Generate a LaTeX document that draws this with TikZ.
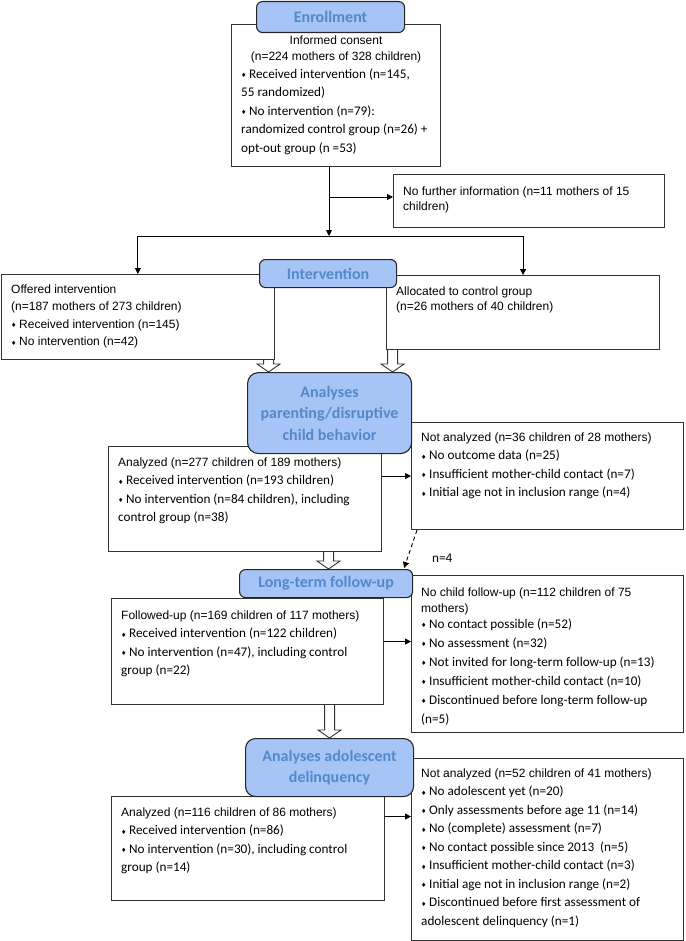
\documentclass[tikz,border=0pt]{standalone}
\usepackage{fontspec}
\setmainfont{Carlito}
\newfontfamily\arialfont{Liberation Sans}
\newfontfamily\hdfont[Scale=0.9091]{Liberation Sans}
\newfontfamily\symfont{DejaVu Sans}
\usetikzlibrary{arrows.meta,positioning,calc}

\definecolor{headfill}{RGB}{166,197,246}
\definecolor{headtext}{RGB}{84,136,200}
\definecolor{boxline}{RGB}{51,51,51}

\newcommand{\bul}{{\symfont\fontsize{6}{6}\selectfont\raisebox{0.8pt}{♦}}\hspace{2.6pt}}
\newcommand{\hd}[1]{{\hdfont #1}}
\newcommand{\hollowto}[2]{%
  \draw[hollow] ($(#1)+(-5,0)$) -- ($(#2)+(-5,-8)$) -- ($(#2)+(-11.5,-8)$) -- (#2)
    -- ($(#2)+(11.5,-8)$) -- ($(#2)+(5,-8)$) -- ($(#1)+(5,0)$);}

\begin{document}
\begin{tikzpicture}[x=1pt, y=-1pt,
    box/.style={draw=boxline, line width=1.1pt, anchor=north west, inner sep=0pt},
    head/.style={draw=black!85, line width=1.1pt, fill=headfill, rounded corners=6pt, anchor=north west, inner sep=0pt, align=center, text=headtext, font=\fontsize{16}{21.5}\selectfont\bfseries},
    txt/.style={inner sep=0pt, align=left, font=\fontsize{13.2}{18.5}\selectfont},
    atxt/.style={inner sep=0pt, align=left, font=\arialfont\fontsize{12}{15}\selectfont},
    arrow/.style={-{Triangle[length=6pt,width=6pt]}, line width=0.9pt},
    hollow/.style={line width=0.9pt, draw=boxline}
]
\useasboundingbox (0,0) rectangle (685,941);

% Boxes
\node[box, minimum width=209pt, minimum height=142pt] (enr) at (231,24) {};
\node[box, minimum width=271pt, minimum height=53pt] (nofur) at (393,174) {};
\node[box, minimum width=273.4pt, minimum height=85pt] (off) at (0.6,274) {};
\node[box, minimum width=273pt, minimum height=74pt] (alloc) at (386,275) {};
\node[box, minimum width=273pt, minimum height=105pt] (ana) at (108,446) {};
\node[box, minimum width=272pt, minimum height=107pt] (notana) at (411,422) {};
\node[box, minimum width=272pt, minimum height=106pt] (fol) at (111,598) {};
\node[box, minimum width=272pt, minimum height=157pt] (nofol) at (411,575) {};
\node[box, minimum width=273pt, minimum height=104pt] (ado) at (111,796) {};
\node[box, minimum width=272pt, minimum height=182pt] (notado) at (411,758) {};

% Header tabs
\node[head, minimum width=148pt, minimum height=31pt] (enr-h) at (256,1) {Enrollment};
\node[head, minimum width=137pt, minimum height=28pt] (int-h) at (259,259) {Intervention};
\node[head, rounded corners=11pt, minimum width=164pt, minimum height=81pt] (ana-h) at (247,372) {Analyses\\parenting/disruptive\\child behavior};
\node[head, minimum width=173pt, minimum height=28pt] (lt-h) at (239,569) {Long-term follow-up};
\node[head, rounded corners=10pt, minimum width=168pt, minimum height=58pt] (ado-h) at (245,738) {Analyses adolescent\\delinquency};

% Texts
\node[atxt, align=center, font=\arialfont\fontsize{12}{16}\selectfont, below=8.9pt of enr.north] (enr-t1) {\strut Informed consent\\(n=224 mothers of 328 children)};
\node[txt, below right=41.15pt and 10pt of enr.north west] (enr-t2) {\strut\bul Received intervention (n=145,\\55 randomized)\\\bul No intervention (n=79):\\randomized control group (n=26) +\\opt-out group (n =53)};
\node[atxt, below right=10.6pt and 10pt of nofur.north west] (nofur-t) {\strut No further information (n=11 mothers of 15\\children)};
\node[atxt, font=\arialfont\fontsize{12}{17.5}\selectfont, below right=6.85pt and 10.4pt of off.north west] (off-t) {\strut Offered intervention\\(n=187 mothers of 273 children)\\\bul Received intervention (n=145)\\\bul No intervention (n=42)};
\node[atxt, below right=9.6pt and 10pt of alloc.north west] (alloc-t) {\strut Allocated to control group\\(n=26 mothers of 40 children)};
\node[txt, below right=7.15pt and 10pt of ana.north west] (ana-t) {\strut\hd{Analyzed (n=277 children of 189 mothers)}\\\bul Received intervention (n=193 children)\\\bul No intervention (n=84 children), including\\control group (n=38)};
\node[txt, below right=6.15pt and 10pt of notana.north west] (notana-t) {\strut\hd{Not analyzed (n=36 children of 28 mothers)}\\\bul No outcome data (n=25)\\\bul Insufficient mother-child contact (n=7)\\\bul Initial age not in inclusion range (n=4)};
\node[txt, below right=8.15pt and 10pt of fol.north west] (fol-t) {\strut\hd{Followed-up (n=169 children of 117 mothers)}\\\bul Received intervention (n=122 children)\\\bul No intervention (n=47), including control\\group (n=22)};
\node[txt, font=\fontsize{13.2}{19}\selectfont, below right=7.8pt and 10pt of nofol.north west] (nofol-t) {\strut\hd{No child follow-up (n=112 children of 75}\\[-3pt]\hd{mothers)}\\[-3pt]\bul No contact possible (n=52)\\\bul No assessment (n=32)\\\bul Not invited for long-term follow-up (n=13)\\\bul Insufficient mother-child contact (n=10)\\\bul Discontinued before long-term follow-up\\(n=5)};
\node[txt, below right=7.15pt and 10pt of ado.north west] (ado-t) {\strut\hd{Analyzed (n=116 children of 86 mothers)}\\\bul Received intervention (n=86)\\\bul No intervention (n=30), including control\\group (n=14)};
\node[txt, below right=6.15pt and 10pt of notado.north west] (notado-t) {\strut\hd{Not analyzed (n=52 children of 41 mothers)}\\\bul No adolescent yet (n=20)\\\bul Only assessments before age 11 (n=14)\\\bul No (complete) assessment (n=7)\\\bul No contact possible since 2013~ (n=5)\\\bul Insufficient mother-child contact (n=3)\\\bul Initial age not in inclusion range (n=2)\\\bul Discontinued before first assessment of\\adolescent delinquency (n=1)};
\node[txt, below right=23.8pt and 21pt of notana.south west] (n4) {n=4};

% Connectors
\coordinate (split) at (329,236);
\coordinate (side) at (329,197);
\draw[arrow] (enr.south -| split) -- (split);
\draw[arrow] (side) -- (side -| nofur.west);
\draw[arrow] (split) -| (off.north);
\draw[arrow] (split) -| (alloc.north);

\coordinate (l-in) at ([xshift=-61pt]ana-h.north);
\coordinate (r-in) at ([xshift=63pt]ana-h.north);
\coordinate (m-in) at ([xshift=2.5pt]lt-h.north);
\hollowto{off.south -| l-in}{l-in}
\hollowto{alloc.south -| r-in}{r-in}
\hollowto{ana.south -| m-in}{m-in}
\hollowto{fol.south -| ado-h.north}{ado-h.north}

\draw[arrow] (ana.east |- notana.west) -- (notana.west);
\draw[arrow] ([yshift=10pt]fol.east) -- ([yshift=10pt]fol.east -| nofol.west);
\draw[arrow] ([yshift=32pt]ado.east) -- ([yshift=32pt]ado.east -| notado.west);
\draw[arrow, dash pattern=on 4pt off 3pt] ([xshift=6pt]notana.south west) -- ([xshift=-9pt, yshift=1pt]lt-h.north east);

\end{tikzpicture}
\end{document}
